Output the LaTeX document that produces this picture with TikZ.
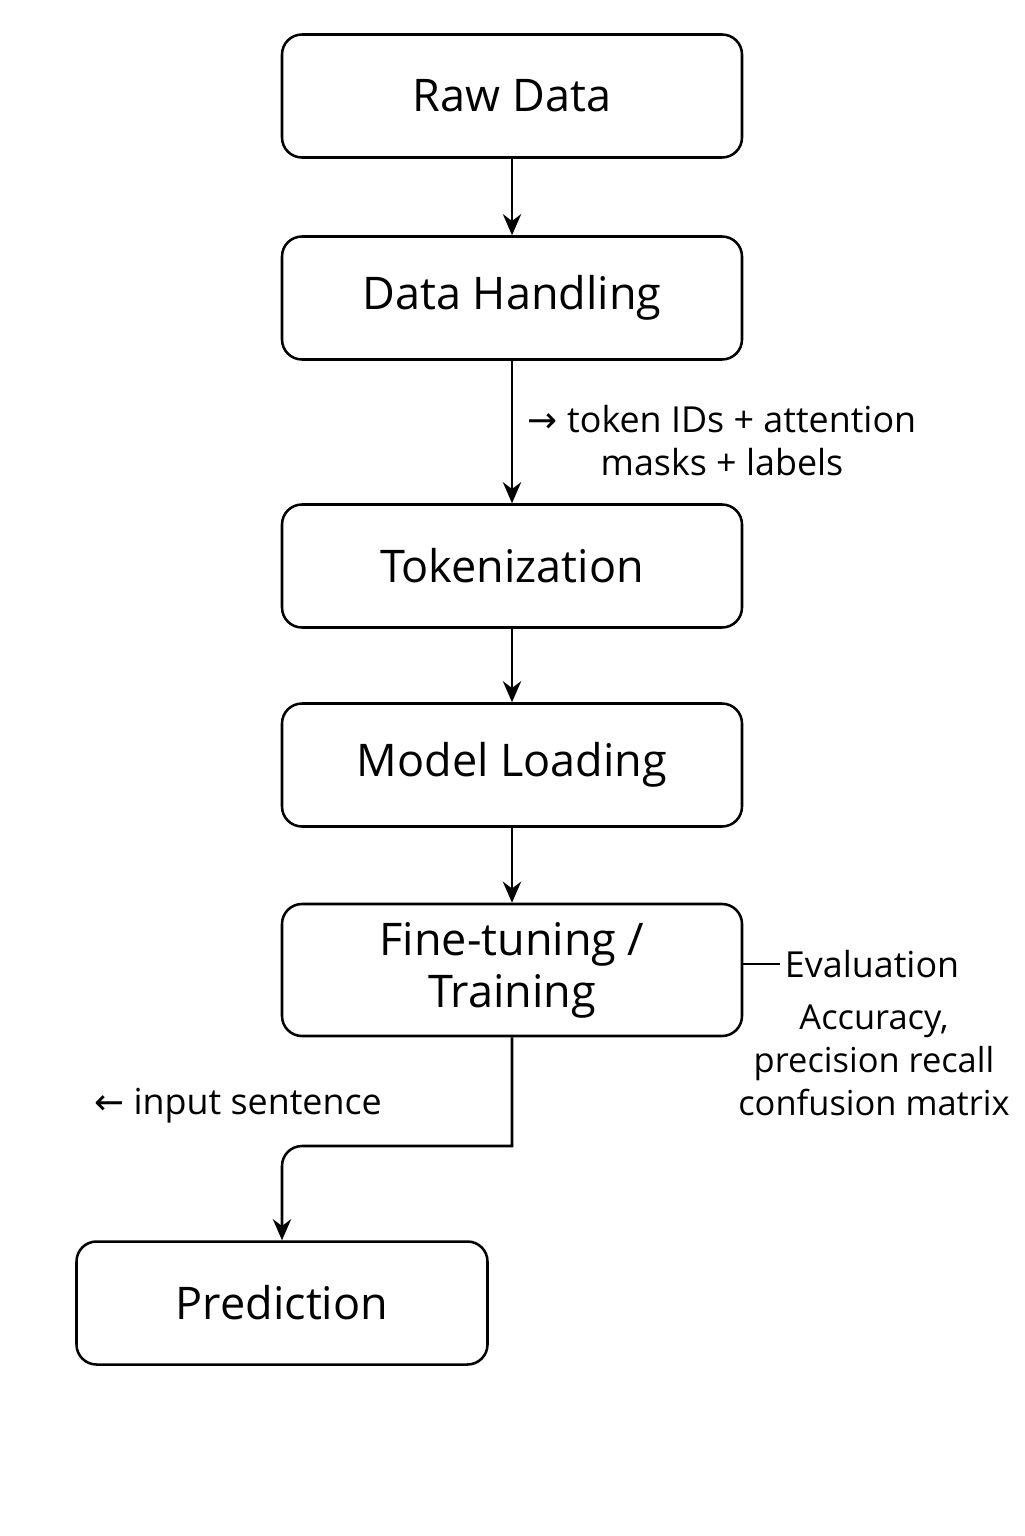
\documentclass[tikz,border=0pt]{standalone}
\usepackage{fontspec}
\setmainfont{Open Sans}
\newfontfamily\arrowfont{DejaVu Sans}
\usetikzlibrary{arrows.meta}

\begin{document}
\begin{tikzpicture}[
    box/.style={draw, line width=1.8pt, rounded corners=0.5cm, minimum width=11.5cm, minimum height=3.075cm, align=center, font=\fontsize{32}{37}\selectfont},
    arrow/.style={-{Stealth[length=15pt, width=13pt]}, line width=1.8pt},
    note/.style={align=center, font=\fontsize{25.5}{30.5}\selectfont}
]
    \useasboundingbox (0,0) rectangle (25.6,-38.4);

    % Pipeline steps
    \node[box] (raw) at (12.8,-2.4) {Raw Data};
    \node[box] (dh) at (12.8,-7.45) {Data Handling};
    \node[box] (tok) at (12.8,-14.15) {Tokenization};
    \node[box] (ml) at (12.8,-19.125) {Model Loading};
    \node[box, minimum height=3.3cm] (ft) at (12.8,-24.25) {Fine-tuning /\\Training};
    \node[box, minimum width=10.275cm] (pred) at (7.05,-32.575) {Prediction};

    % Arrows
    \draw[arrow] (raw) -- (dh);
    \draw[arrow] (dh) -- (tok);
    \draw[arrow] (tok) -- (ml);
    \draw[arrow] (ml) -- (ft);
    \coordinate (turn) at (7.05,-28.65);
    \draw[arrow] (ft.south) -- (ft.south |- turn) [rounded corners=0.5cm] -- (turn) -- (pred.north);

    % Annotations
    \node[note] (tokinfo) at (18.05,-11.02) {{\arrowfont →} token IDs + attention\\masks + labels};
    \node[note, anchor=west] (eval) at (19.5,-24.1) {Evaluation};
    \draw[line width=1.8pt] (ft.east |- eval) -- (eval.west);
    \node[note, font=\fontsize{24.5}{30.5}\selectfont] (metrics) at (21.85,-26.5) {Accuracy,\\precision recall\\confusion matrix};
    \node[note] (input) at (5.95,-27.65) {{\arrowfont ←} input sentence};
\end{tikzpicture}
\end{document}
